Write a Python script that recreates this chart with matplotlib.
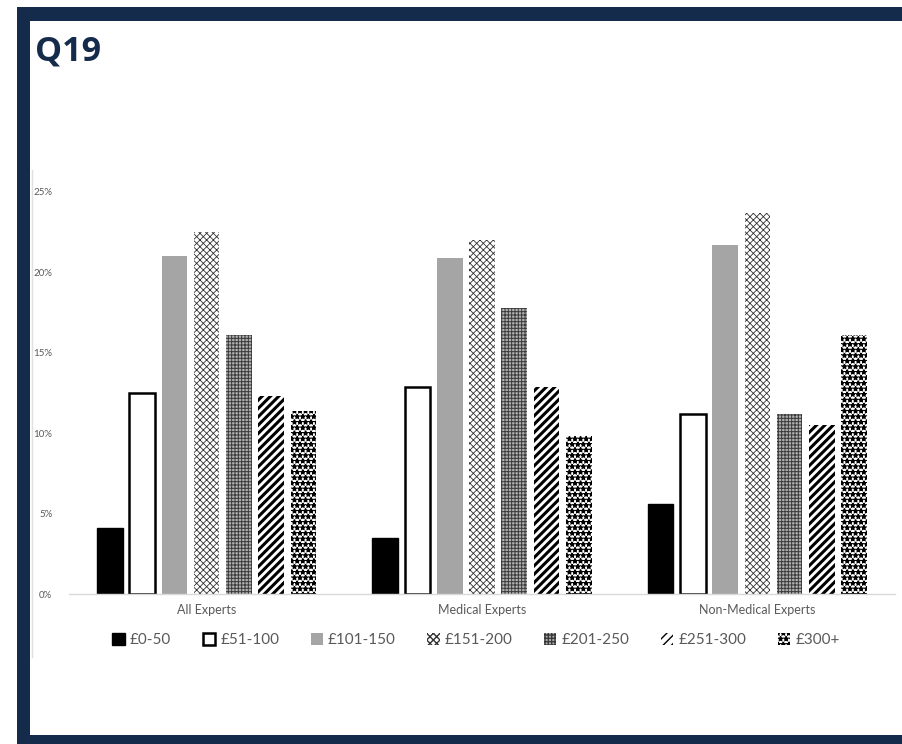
import matplotlib
matplotlib.use("Agg")
import matplotlib.pyplot as plt
from matplotlib.patches import Rectangle
from matplotlib.lines import Line2D
import numpy as np

categories = ["All Experts", "Medical Experts", "Non-Medical Experts"]
series = ["£0-50", "£51-100", "£101-150", "£151-200", "£201-250", "£251-300", "£300+"]
v_0_50 = [4.1, 3.5, 5.6]
v_51_100 = [12.5, 12.9, 11.2]
v_101_150 = [21.05, 20.9, 21.7]
v_151_200 = [22.5, 22.0, 23.7]
v_201_250 = [16.1, 17.8, 11.2]
v_251_300 = [12.3, 12.9, 10.5]
v_300_plus = [11.4, 9.8, 16.1]
values = [v_0_50, v_51_100, v_101_150, v_151_200, v_201_250, v_251_300, v_300_plus]
yticks = [0, 5, 10, 15, 20, 25]
ytick_labels = ["0%", "5%", "10%", "15%", "20%", "25%"]

NAVY = "#152b4c"
TXT = "#595959"

styles = [
    dict(facecolor="black", edgecolor="black", hatch=None, lw=1.0, hlw=1.0),
    dict(facecolor="white", edgecolor="black", hatch=None, lw=1.8, hlw=1.0),
    dict(facecolor="#a5a5a5", edgecolor="#a5a5a5", hatch=None, lw=0.0, hlw=1.0),
    dict(facecolor="white", edgecolor="#333333", hatch="xxxxx", lw=0.0, hlw=0.6),
    dict(facecolor="#b0b0b0", edgecolor="#3a3a3a", hatch="+++++", lw=0.0, hlw=0.7),
    dict(facecolor="white", edgecolor="black", hatch="////", lw=0.0, hlw=2.2),
    dict(facecolor="white", edgecolor="black", hatch="***", lw=0.0, hlw=1.0),
]

fig = plt.figure(figsize=(9.03, 7.44), dpi=100)
fig.patch.set_facecolor("white")

# frame
fig.add_artist(Rectangle((17/903, 0), 13/903, 1 - 7/744, transform=fig.transFigure,
                         facecolor=NAVY, edgecolor="none"))
fig.add_artist(Rectangle((17/903, 1 - 21/744), 1, 14/744, transform=fig.transFigure,
                         facecolor=NAVY, edgecolor="none"))
fig.add_artist(Rectangle((17/903, 0), 1, 9/744, transform=fig.transFigure,
                         facecolor=NAVY, edgecolor="none"))
fig.add_artist(Line2D([32/903, 32/903], [1 - 170/744, 1 - 657/744], transform=fig.transFigure,
                      color="#e0e0e0", lw=1.0))

fig.text(35/903, 1 - 51/744, "Q19", fontsize=24.5, fontweight="bold", color=NAVY,
         family="Open Sans", va="center", ha="left")

ax = fig.add_axes([69/903, 1 - 594/744, (895 - 69)/903, (594 - 192)/744])
x = np.arange(len(categories))
slot = 0.1173
width = 0.093
handles = []
for i, (name, vals, st) in enumerate(zip(series, values, styles)):
    with plt.rc_context({"hatch.linewidth": st["hlw"]}):
        bars = ax.bar(x + (i - 3) * slot, vals, width=width, facecolor=st["facecolor"],
                      edgecolor=st["edgecolor"], hatch=st["hatch"], linewidth=st["lw"],
                      label=name)
        for b in bars:
            if hasattr(b, "set_hatch_linewidth"):
                b.set_hatch_linewidth(st["hlw"])
    handles.append(bars)

ax.set_xlim(-0.5, 2.5)
ax.set_ylim(0, 25)
ax.set_yticks(yticks)
ax.set_yticklabels(ytick_labels, family="Lato", fontsize=7, color=TXT)
ax.set_xticks(x)
ax.set_xticklabels(categories, family="Lato", fontsize=9, color=TXT)
ax.tick_params(axis="y", length=0, pad=12)
ax.tick_params(axis="x", length=0, pad=7)
for s in ["top", "right", "left"]:
    ax.spines[s].set_visible(False)
ax.spines["bottom"].set_color("#d9d9d9")
ax.spines["bottom"].set_linewidth(1.0)

leg = fig.legend(handles=handles, labels=series, loc="center", ncol=7,
                 bbox_to_anchor=(476/903, 1 - 640/744), frameon=False,
                 prop={"family": "Lato", "size": 11}, handlelength=0.8, handleheight=0.8,
                 handletextpad=0.35, columnspacing=2.05, labelcolor=TXT)

fig.savefig("out.png", dpi=100, facecolor="white")
